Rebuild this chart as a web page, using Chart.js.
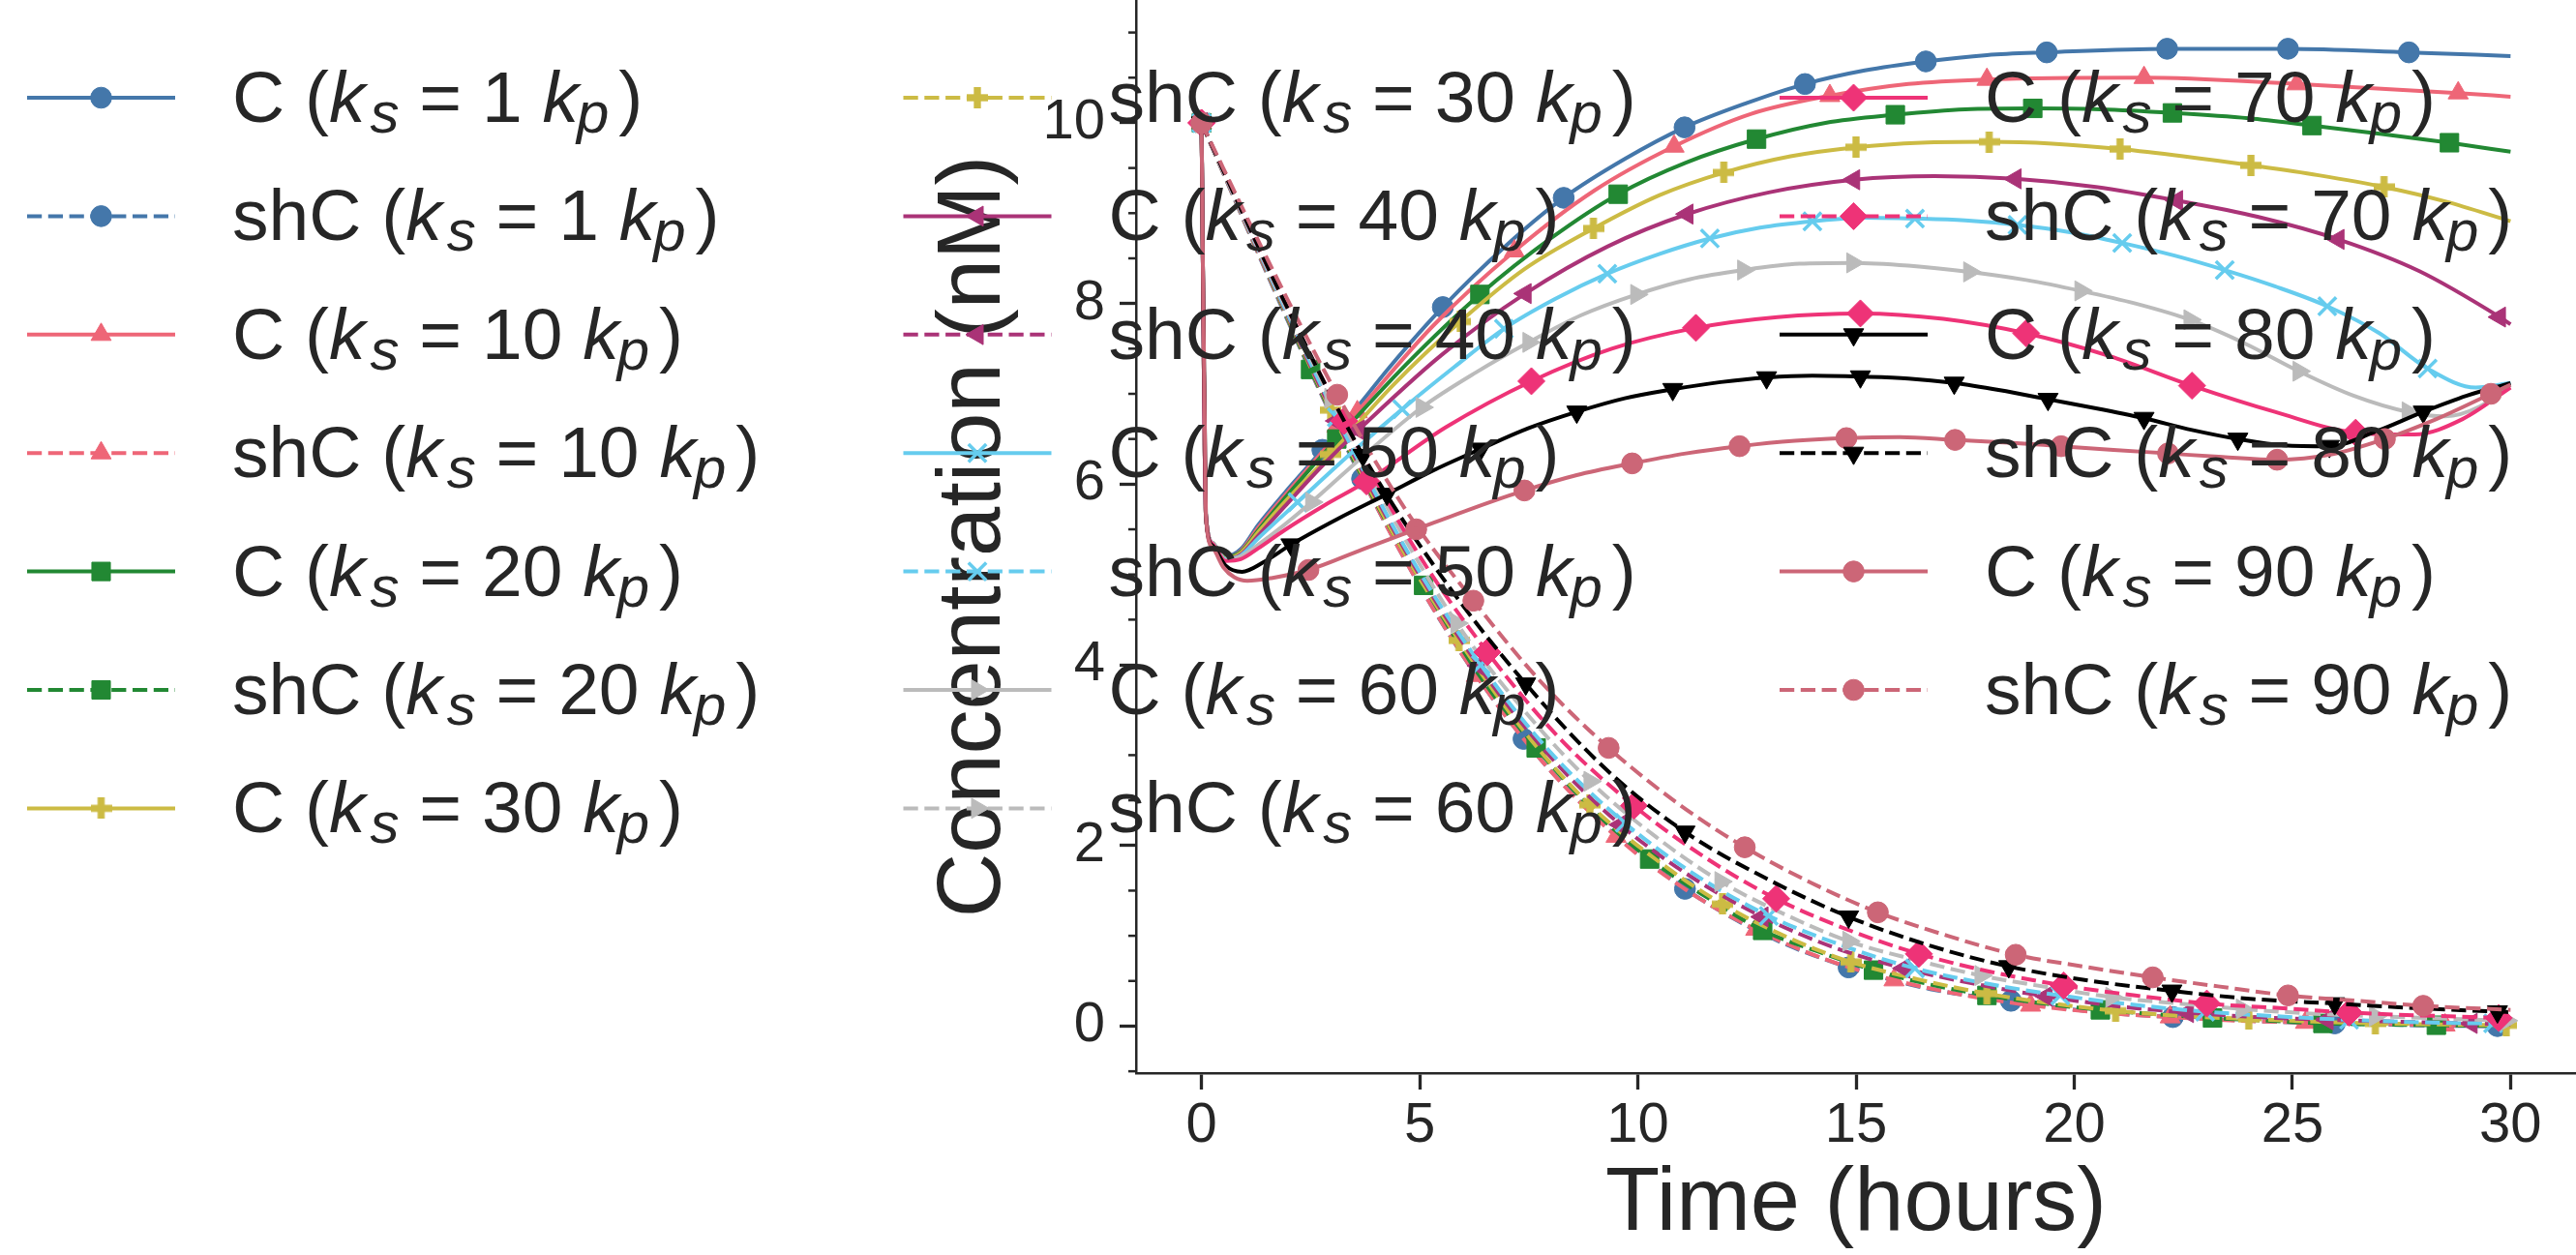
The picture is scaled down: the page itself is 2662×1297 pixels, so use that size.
<!DOCTYPE html>
<html>
<head>
<meta charset="utf-8">
<script src="https://cdn.jsdelivr.net/npm/chart.js@4.4.1/dist/chart.umd.min.js"></script>
<style>
  html, body { margin: 0; padding: 0; background: #fff; overflow: hidden; }
  canvas { display: block; }
</style>
</head>
<body>
<canvas id="chart" width="2662" height="1297" style="width:2662px;height:1297px"></canvas>
<script>
// ks multiples (k_s = n k_p)
const ksValues = [1, 10, 20, 30, 40, 50, 60, 70, 80, 90];
const colors = ['#4477AA', '#EE6677', '#228833', '#CCBB44', '#AA3377', '#66CCEE', '#BBBBBB', '#EE3377', '#000000', '#CC6677'];

const xTicks = [0, 5, 10, 15, 20, 25, 30];
const yTicks = [0, 2, 4, 6, 8, 10];
const yMinorTicks = [-0.5, 0.5, 1, 1.5, 2.5, 3, 3.5, 4.5, 5, 5.5, 6.5, 7, 7.5, 8.5, 9, 9.5, 10.5, 11];

// ---- C curves: [time h, conc nM]; *_m = points carrying a marker ----
const C1_m = [[0,10],[2.77,6.38],[5.53,7.96],[8.3,9.17],[11.07,9.95],[13.83,10.43],[16.6,10.68],[19.37,10.78],[22.13,10.82],[24.9,10.82],[27.67,10.78]];
const C1 = [[0.1,5.65],[0.25,5.35],[0.55,5.2],[0.9,5.28],[1.3,5.55],[1.9,5.9],[3.7,6.93],[4.3,7.29],[7,8.65],[9.7,9.6],[12.5,10.22],[15.2,10.58],[18,10.75],[30,10.74]];

const C10_m = [[0,10],[3.57,6.8],[7.17,8.58],[10.83,9.74],[14.4,10.3],[18.0,10.48],[21.6,10.5],[25.1,10.43],[28.8,10.33]];
const C10 = [[0.1,5.65],[0.25,5.35],[0.55,5.19],[0.9,5.26],[1.3,5.52],[1.9,5.87],[2.7,6.32],[5.3,7.75],[9,9.25],[12.6,10.1],[16.2,10.43],[30,10.29]];

const C20_m = [[0,10],[3.1,6.5],[6.38,8.1],[9.55,9.21],[12.72,9.82],[15.9,10.09],[19.05,10.16],[22.25,10.11],[25.45,9.97],[28.6,9.78]];
const C20 = [[0.1,5.65],[0.25,5.35],[0.55,5.19],[0.9,5.25],[1.3,5.49],[1.9,5.84],[4.7,7.33],[8,8.72],[11.1,9.56],[14.3,10.0],[17.5,10.15],[20.6,10.15],[24,10.05],[27,9.88],[30,9.68]];

const C30_m = [[0,10],[2.95,6.33],[5.93,7.8],[8.98,8.83],[11.97,9.45],[15.0,9.73],[18.05,9.79],[21.05,9.71],[24.05,9.53],[27.1,9.29]];
const C30 = [[0.1,5.65],[0.25,5.35],[0.55,5.18],[0.9,5.24],[1.3,5.47],[1.9,5.8],[4.4,7.1],[7.4,8.38],[10.5,9.2],[13.5,9.63],[16.5,9.78],[19.5,9.77],[22.5,9.63],[25.6,9.42],[28.5,9.13],[30,8.91]];

const C40_m = [[0,10],[3.6,6.6],[7.42,8.11],[11.13,8.99],[14.95,9.37],[18.65,9.38],[22.35,9.14],[26.05,8.71],[29.75,7.85]];
const C40 = [[0.1,5.65],[0.25,5.35],[0.55,5.17],[0.9,5.22],[1.3,5.43],[1.9,5.75],[2.7,6.17],[5.5,7.43],[9.3,8.63],[13,9.23],[16.8,9.41],[20.5,9.29],[24.2,8.96],[27.9,8.36],[30,7.77]];

const C50_m = [[0,10],[2.2,5.8],[4.6,6.83],[6.93,7.72],[9.3,8.33],[11.65,8.72],[14.0,8.91],[16.35,8.94],[18.7,8.87],[21.1,8.67],[23.45,8.37],[25.8,7.97],[28.1,7.28]];
const C50 = [[0.1,5.65],[0.25,5.35],[0.55,5.17],[0.9,5.21],[1.3,5.4],[3.4,6.33],[5.8,7.3],[8.1,8.05],[10.5,8.55],[12.8,8.84],[15.2,8.95],[17.5,8.92],[19.9,8.79],[22.3,8.53],[24.6,8.19],[27,7.67],[29.2,7.07],[30,7.12]];

const C60_m = [[0,10],[2.52,5.8],[5.05,6.85],[7.5,7.57],[9.97,8.1],[12.42,8.37],[14.92,8.45],[17.6,8.35],[20.15,8.14],[22.65,7.82],[25.15,7.25],[27.65,6.8]];
const C60 = [[0.1,5.65],[0.25,5.35],[0.55,5.16],[0.9,5.2],[1.3,5.33],[1.9,5.55],[3.8,6.35],[6.3,7.24],[8.7,7.87],[11.2,8.27],[13.7,8.44],[16.2,8.42],[18.9,8.26],[21.4,8.0],[23.9,7.56],[26.4,6.98],[28.5,6.75],[29.3,6.86],[30,7.1]];

const C70_m = [[0,10],[3.78,6.03],[7.56,7.14],[11.33,7.73],[15.1,7.89],[18.9,7.67],[22.7,7.09],[26.45,6.57]];
const C70 = [[0.1,5.65],[0.25,5.34],[0.55,5.15],[0.9,5.17],[1.3,5.29],[1.9,5.49],[2.8,5.76],[5.6,6.63],[9.4,7.5],[13.2,7.85],[17,7.83],[20.8,7.42],[24.6,6.8],[27.8,6.55],[28.9,6.72],[30,7.07]];

const C80_m = [[0,10],[2.05,5.33],[4.25,5.89],[6.4,6.39],[8.6,6.8],[10.8,7.05],[12.95,7.18],[15.1,7.19],[17.25,7.12],[19.4,6.94],[21.6,6.73],[23.75,6.5],[25.85,6.42],[28.0,6.8]];
const C80 = [[0.1,5.65],[0.25,5.32],[0.55,5.1],[0.93,5.03],[1.4,5.13],[3.1,5.61],[5.3,6.15],[7.5,6.62],[9.7,6.95],[11.9,7.13],[14,7.2],[16.2,7.17],[18.3,7.04],[20.5,6.84],[22.7,6.6],[24.8,6.43],[26.9,6.58],[29,6.98],[30,7.12]];

const C90_m = [[0,10],[2.45,5.05],[4.92,5.5],[7.4,5.93],[9.87,6.23],[12.33,6.42],[14.78,6.51],[17.27,6.49],[19.7,6.42],[22.15,6.34],[24.65,6.27],[27.12,6.5],[29.55,7.0]];
const C90 = [[0.1,5.65],[0.25,5.3],[0.5,5.08],[0.75,4.97],[1.05,4.93],[1.6,4.96],[3.7,5.28],[6.2,5.73],[8.6,6.1],[11.1,6.34],[13.6,6.48],[16,6.52],[18.5,6.46],[20.9,6.38],[23.4,6.3],[25.9,6.33],[28.3,6.72],[30,7.1]];

// ---- shC curves ----
const shC1_m = [[0,10],[3.68,6.06],[7.38,3.18],[11.08,1.52],[14.83,0.65],[18.55,0.28],[22.26,0.1],[25.97,0.03],[29.7,0.0]];
const shC1 = [[1.5,8.33],[2.5,7.25],[5.5,4.47],[9.2,2.24],[13,0.99],[16.7,0.41],[20.4,0.16],[24,0.06],[30,0.0]];

const shC10_m = [[0,10],[3.1,6.64],[6.3,3.88],[9.5,2.1],[12.7,1.07],[15.87,0.51],[19.0,0.23],[22.2,0.1],[25.3,0.04],[28.5,0.01]];
const shC10 = [[1.5,8.34],[4.7,5.13],[7.9,2.88],[11.1,1.51],[14.3,0.74],[17.4,0.35],[20.6,0.15],[23.8,0.06],[30,0.0]];

const shC20_m = [[0,10],[2.5,7.27],[5.09,4.88],[7.67,3.08],[10.27,1.85],[12.86,1.06],[15.4,0.62],[18.0,0.34],[20.6,0.18],[23.17,0.09],[25.7,0.03],[28.3,0.01]];
const shC20 = [[1.25,8.63],[3.8,5.97],[6.4,3.86],[9,2.38],[11.6,1.42],[14.1,0.83],[16.7,0.46],[19.3,0.25],[21.9,0.13],[24.4,0.06],[30,0.0]];

const shC30_m = [[0,10],[2.96,6.82],[5.9,4.27],[8.9,2.45],[11.94,1.35],[14.88,0.71],[18.0,0.36],[20.95,0.17],[24.0,0.08],[26.9,0.03],[29.9,0.01]];
const shC30 = [[1.5,8.36],[4.4,5.45],[7.4,3.26],[10.4,1.85],[13.4,0.99],[16.4,0.52],[19.5,0.25],[22.5,0.11],[25.5,0.05]];

const shC40_m = [[0,10],[3.1,6.7],[6.35,3.99],[9.6,2.23],[12.85,1.21],[16.1,0.64],[19.36,0.33],[22.6,0.15],[25.8,0.07],[29.1,0.03]];
const shC40 = [[1.5,8.37],[4.7,5.24],[8,2.98],[11.2,1.66],[14.5,0.87],[17.7,0.47],[21,0.22],[24.2,0.1],[30,0.02]];

const shC50_m = [[0,10],[3.1,6.74],[6.4,4.0],[9.7,2.25],[13.0,1.22],[16.35,0.64],[19.68,0.34],[23.0,0.16],[26.3,0.07],[29.6,0.03]];
const shC50 = [[1.5,8.38],[4.7,5.27],[8,3.03],[11.3,1.68],[14.7,0.89],[18,0.47],[21.3,0.24],[24.6,0.11],[30,0.03]];

const shC60_m = [[0,10],[2.96,6.95],[5.85,4.46],[8.9,2.71],[11.9,1.6],[14.83,0.94],[17.86,0.56],[20.86,0.32],[23.85,0.19],[26.9,0.11],[29.9,0.06]];
const shC60 = [[1.5,8.4],[4.4,5.62],[7.4,3.49],[10.4,2.1],[13.4,1.23],[16.3,0.74],[19.4,0.43],[22.4,0.25],[25.4,0.14]];

const shC70_m = [[0,10],[3.27,6.7],[6.55,4.14],[9.91,2.44],[13.17,1.41],[16.44,0.8],[19.76,0.45],[23.04,0.25],[26.3,0.15],[29.73,0.09]];
const shC70 = [[1.6,8.32],[4.9,5.28],[8.2,3.19],[11.5,1.88],[14.8,1.07],[18.1,0.6],[21.4,0.34],[24.7,0.2],[30,0.085]];

const shC80_m = [[0,10],[3.7,6.32],[7.43,3.79],[11.08,2.15],[14.83,1.21],[18.5,0.66],[22.24,0.39],[25.97,0.25],[29.7,0.16]];
const shC80 = [[1.8,8.12],[5.5,4.98],[9.3,2.83],[13,1.62],[16.7,0.89],[20.4,0.5],[24.1,0.3],[27.8,0.2],[30,0.155]];

const shC90_m = [[0,10],[3.11,6.99],[6.23,4.71],[9.33,3.08],[12.45,1.98],[15.5,1.26],[18.66,0.79],[21.8,0.54],[24.9,0.34],[28.0,0.225]];
const shC90 = [[1.5,8.5],[4.7,5.7],[7.8,3.8],[10.9,2.47],[14,1.58],[17.1,1.0],[20.2,0.66],[23.3,0.44],[26.5,0.28],[30,0.18]];

const cLines = [C1, C10, C20, C30, C40, C50, C60, C70, C80, C90];
const cMarks = [C1_m, C10_m, C20_m, C30_m, C40_m, C50_m, C60_m, C70_m, C80_m, C90_m];
const shLines = [shC1, shC10, shC20, shC30, shC40, shC50, shC60, shC70, shC80, shC90];
const shMarks = [shC1_m, shC10_m, shC20_m, shC30_m, shC40_m, shC50_m, shC60_m, shC70_m, shC80_m, shC90_m];

// ---- look ----
const INK = '#262626';
const FONT = '"Liberation Sans", Arial, Helvetica, sans-serif';
const LW = 4;
const DASH = [15.2, 6.6];

// filled plus ("P") marker
function plusMarker(color, size) {
    const c = document.createElement('canvas');
    c.width = size; c.height = size;
    const g = c.getContext('2d');
    const a = size / 3;
    g.fillStyle = color;
    g.fillRect(a, 0, a, size);
    g.fillRect(0, a, size, a);
    return c;
}

const markerStyle = ['circle', 'triangle', 'rect', plusMarker(colors[3], 22), 'triangle', 'crossRot', 'triangle', 'rectRot', 'triangle', 'circle'];
const markerRot = [0, 0, 0, 0, -90, 0, 90, 0, 180, 0];
const markerRad = [10.8, 12, 13.5, 11, 12, 13, 12, 14, 12, 10.8];

// series in plotting / legend order: C, shC for each ks
const series = [];
ksValues.forEach((ks, k) => {
    series.push({ prefix: 'C (', ks, k, dashed: false, line: cLines[k], marks: cMarks[k] });
    series.push({ prefix: 'shC (', ks, k, dashed: true, line: shLines[k], marks: shMarks[k] });
});

const toXY = p => ({ x: p[0], y: p[1] });
const datasets = [];
series.forEach((s, i) => {
    const pts = s.line.concat(s.marks).sort((a, b) => a[0] - b[0]).map(toXY);
    datasets.push({
        data: pts,
        borderColor: colors[s.k],
        borderWidth: LW,
        borderDash: s.dashed ? DASH : [],
        pointRadius: 0,
        cubicInterpolationMode: 'monotone',
        fill: false,
        order: 1000 - 2 * i
    });
    datasets.push({
        data: s.marks.map(toXY),
        showLine: false,
        pointStyle: markerStyle[s.k],
        pointRotation: markerRot[s.k],
        pointRadius: markerRad[s.k],
        pointBackgroundColor: colors[s.k],
        pointBorderColor: colors[s.k],
        pointBorderWidth: s.k === 5 ? 3.5 : 1,
        order: 999 - 2 * i
    });
});

// legend: 3 columns, 7 rows, drawn over the figure
const LEG_X0 = 28, LEG_COL = 905.5, LEG_LINE = 153, LEG_TEXT = 212;
const LEG_Y0 = 101, LEG_ROW = 122.4;

function drawLabel(ctx, x, y, s) {
    const big = `75px ${FONT}`, ital = `italic 75px ${FONT}`, sub = `italic 60px ${FONT}`;
    // [text, font, gap before, baseline shift]
    const parts = [
        [s.prefix, big, 0, 0],
        ['k', ital, 0, 0],
        ['s', sub, 5, 11],
        [` = ${s.ks} `, big, 0, 0],
        ['k', ital, 0, 0],
        ['p', sub, -2, 11],
        [')', big, 10, 0]
    ];
    let cx = x;
    parts.forEach(([txt, font, gap, dy]) => {
        cx += gap;
        ctx.font = font;
        ctx.fillText(txt, cx, y + dy);
        cx += ctx.measureText(txt).width;
    });
}

const overlay = {
    id: 'overlay',
    afterDraw(chart) {
        const ctx = chart.ctx;
        const ys = chart.scales.y;
        ctx.save();
        // minor y ticks
        ctx.strokeStyle = INK;
        ctx.lineWidth = 2.5;
        yMinorTicks.forEach(v => {
            const py = ys.getPixelForValue(v);
            ctx.beginPath();
            ctx.moveTo(ys.right - 8, py);
            ctx.lineTo(ys.right, py);
            ctx.stroke();
        });
        // legend
        ctx.textBaseline = 'alphabetic';
        ctx.textAlign = 'left';
        series.forEach((s, i) => {
            const col = Math.floor(i / 7), row = i % 7;
            const lx = LEG_X0 + col * LEG_COL;
            const ly = LEG_Y0 + row * LEG_ROW;
            const color = colors[s.k];
            ctx.strokeStyle = color;
            ctx.lineWidth = LW;
            ctx.setLineDash(s.dashed ? DASH : []);
            ctx.beginPath();
            ctx.moveTo(lx, ly);
            ctx.lineTo(lx + LEG_LINE, ly);
            ctx.stroke();
            ctx.setLineDash([]);
            ctx.fillStyle = color;
            ctx.lineWidth = s.k === 5 ? 3.5 : 1;
            Chart.helpers.drawPoint(ctx, {
                pointStyle: markerStyle[s.k],
                rotation: markerRot[s.k],
                radius: markerRad[s.k],
                borderWidth: s.k === 5 ? 3.5 : 1
            }, lx + LEG_LINE / 2, ly);
            ctx.fillStyle = INK;
            drawLabel(ctx, lx + LEG_TEXT, ly + 25, s);
        });
        ctx.restore();
    }
};

const axisGrid = { display: true, drawOnChartArea: false, drawTicks: true, tickLength: 17, tickWidth: 3.3, tickColor: INK };
const axisBorder = { display: true, color: INK, width: 2.5 };

new Chart(document.getElementById('chart'), {
    type: 'line',
    data: { datasets },
    options: {
        responsive: false,
        devicePixelRatio: 1,
        animation: false,
        events: [],
        layout: { padding: 0, autoPadding: false },
        plugins: { legend: { display: false }, tooltip: { enabled: false } },
        scales: {
            x: {
                type: 'linear',
                min: -1.5,
                max: 31.5,
                afterBuildTicks: s => { s.ticks = xTicks.map(v => ({ value: v })); },
                afterFit: s => { s.height = 188; s.paddingLeft = 0; s.paddingRight = 0; },
                grid: axisGrid,
                border: axisBorder,
                ticks: { font: { family: FONT, size: 58 }, color: INK, padding: 3, maxRotation: 0, autoSkip: false },
                title: { display: true, text: 'Time (hours)', color: INK, font: { family: FONT, size: 92, lineHeight: 1 }, padding: { top: 0, bottom: 5 } }
            },
            y: {
                type: 'linear',
                min: -0.52,
                max: 11.36,
                afterBuildTicks: s => { s.ticks = yTicks.map(v => ({ value: v })); },
                afterFit: s => { s.width = 1174; s.paddingTop = 0; s.paddingBottom = 0; },
                grid: axisGrid,
                border: axisBorder,
                ticks: { font: { family: FONT, size: 58 }, color: INK, padding: 15 },
                title: { display: true, text: 'Concentration (nM)', color: INK, font: { family: FONT, size: 92, lineHeight: 1 }, padding: { top: 962, bottom: 0 } }
            }
        }
    },
    plugins: [overlay]
});
</script>
</body>
</html>
